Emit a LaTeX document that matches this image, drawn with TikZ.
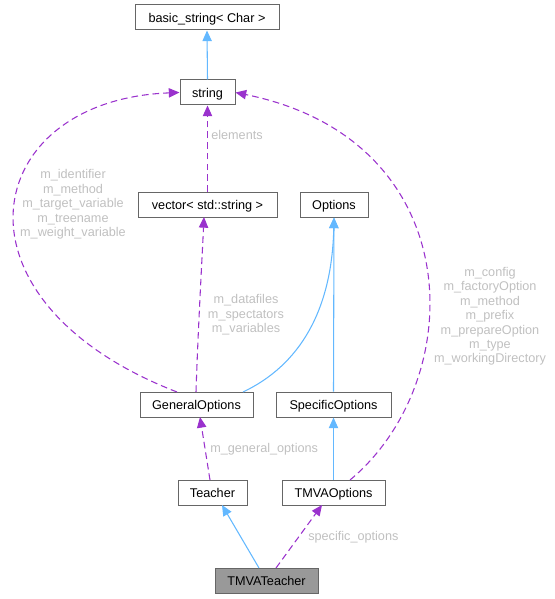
\documentclass[tikz,border=0pt]{standalone}
\usepackage{fontspec}
\setmainfont{Liberation Sans}
\usetikzlibrary{arrows.meta}
\definecolor{edgeblue}{HTML}{63B8FF}
\definecolor{edgepurple}{HTML}{9A32CD}
\definecolor{lblgray}{HTML}{C0C0C0}
\definecolor{boxborder}{HTML}{666666}
\begin{document}
\begin{tikzpicture}[x=0.75pt,y=-0.75pt,
  cls/.style={draw=boxborder,fill=white,line width=0.75pt,inner sep=0pt,minimum height=18.75pt,text height=8pt,text depth=1pt,font=\fontsize{9.5}{11}\selectfont},
  inh/.style={draw=edgeblue,line width=0.8pt,-{Triangle[length=8pt,width=7pt]}},
  use/.style={draw=edgepurple,line width=0.8pt,dash pattern=on 5pt off 3pt,-{Triangle[length=8pt,width=7pt]}},
  lbl/.style={text=lblgray,font=\fontsize{9.5}{10.8}\selectfont,inner sep=0pt,align=center}]
\useasboundingbox (0,0) rectangle (554,599);
\node[cls,minimum width=108pt] (bs) at (207,17.5) {basic\_string< Char >};
\node[cls,minimum width=41.25pt] (str) at (207.5,92.5) {string};
\node[cls,minimum width=104.25pt] (vec) at (207.5,204.5) {vector< std::string >};
\node[cls,minimum width=51pt] (opt) at (334,204.5) {Options};
\node[cls,minimum width=84.75pt] (gen) at (196.5,404.5) {GeneralOptions};
\node[cls,minimum width=86.25pt] (spec) at (333.5,404.5) {SpecificOptions};
\node[cls,minimum width=51.75pt] (teach) at (212.5,492.5) {Teacher};
\node[cls,minimum width=77.25pt] (tmo) at (333.5,492.5) {TMVAOptions};
\node[cls,minimum width=77.25pt,fill={rgb,255:red,153;green,153;blue,153}] (tmt) at (266.5,580.5) {TMVATeacher};

\draw[inh] (str.north) -- (bs.south);
\draw[use] (vec.north) -- (str.south);
\node[lbl,anchor=west] (l1) at (211,135) {elements};

\coordinate (gtl) at (177,392);
\draw[use] (gtl) .. controls (-60,300) and (-20,100) .. (str.west);
\node[lbl] (l2) at (73,204.5) {m\_identifier\\m\_method\\m\_target\_variable\\m\_treename\\m\_weight\_variable};

\coordinate (gtop) at (196,392);
\draw[use] (gtop) .. controls (198,330) and (202,260) .. (204,217);
\node[lbl] (l3) at (246,315) {m\_datafiles\\m\_spectators\\m\_variables};

\coordinate (gtr) at (243,392);
\draw[inh] (gtr) .. controls (300,365) and (332,310) .. (opt.south);
\draw[inh] (spec.north) -- (opt.south);
\draw[inh] (tmo.north) -- (spec.south);

\coordinate (ttr) at (350,480);
\draw[use] (ttr) .. controls (470,380) and (470,140) .. (str.east);
\node[lbl] (l4) at (490,316.5) {m\_config\\m\_factoryOption\\m\_method\\m\_prefix\\m\_prepareOption\\m\_type\\m\_workingDirectory};

\coordinate (tch) at (210,480);
\draw[use] (tch) -- (200,417);
\node[lbl,anchor=west] (l5) at (210,449) {m\_general\_options};

\coordinate (tm1) at (259,568);
\coordinate (tm2) at (276,568);
\draw[inh] (tm1) -- (222,505);
\draw[use] (tm2) -- (322,505);
\node[lbl,anchor=west] (l6) at (308,537) {specific\_options};
\end{tikzpicture}
\end{document}
